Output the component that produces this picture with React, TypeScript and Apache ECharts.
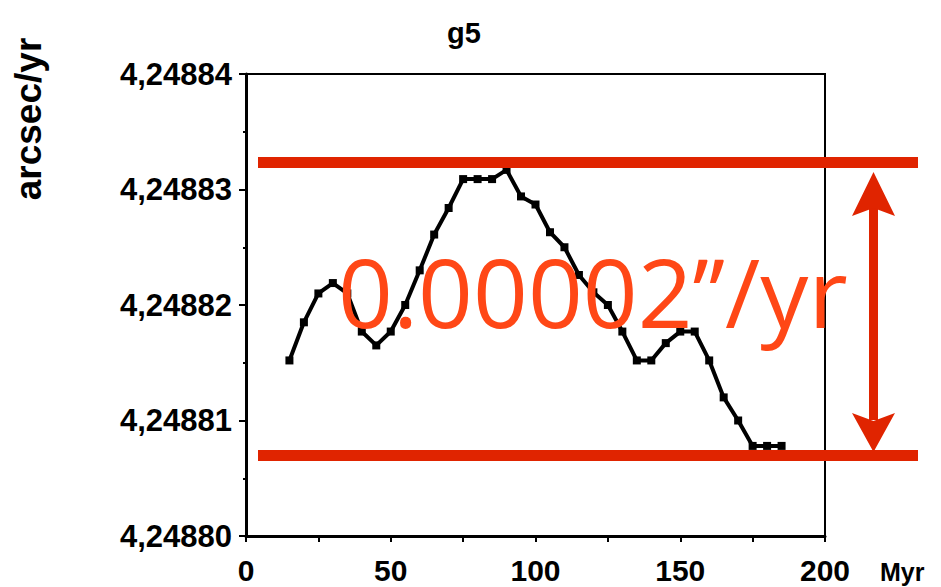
import React, { useEffect, useRef } from "react";
import * as echarts from "echarts";

// Time in Myr
const timeMyr: number[] = [
  15, 20, 25, 30, 35, 40, 45, 50, 55, 60, 65, 70, 75, 80, 85, 90, 95, 100,
  105, 110, 115, 120, 125, 130, 135, 140, 145, 150, 155, 160, 165, 170, 175,
  180, 185,
];

// g5 frequency, arcsec/yr
const g5Values: number[] = [
  4.2488152, 4.2488185, 4.248821, 4.2488219, 4.248821, 4.2488177, 4.2488165,
  4.2488177, 4.24882, 4.248823, 4.2488261, 4.2488284, 4.2488309, 4.2488309,
  4.2488309, 4.2488317, 4.2488294, 4.2488287, 4.2488263, 4.248825, 4.2488226,
  4.2488211, 4.24882, 4.2488177, 4.2488152, 4.2488152, 4.2488167, 4.2488177,
  4.2488177, 4.2488152, 4.248812, 4.24881, 4.2488078, 4.2488078, 4.2488078,
];

const yTicks: number[] = [4.2488, 4.24881, 4.24882, 4.24883, 4.24884];
const xTicks: number[] = [0, 50, 100, 150, 200];

const title = "g5";
const yName = "arcsec/yr";
const xName = "Myr";
const spreadLabel = "0.00002\u2019\u2019/yr";

const RED = "#e02400";
const RED_TEXT = "#ff4716";
const FONT = "Liberation Sans";

export default function App() {
  const ref = useRef<HTMLDivElement>(null);

  useEffect(() => {
    if (!ref.current) return;
    const chart = echarts.init(ref.current, undefined, { renderer: "svg" });

    const series = timeMyr.map((t, i) => [t, g5Values[i]]);

    chart.setOption({
      animation: false,
      backgroundColor: "#ffffff",
      grid: {
        left: 246,
        right: 116,
        top: 74,
        bottom: 51,
        show: true,
        borderColor: "#000",
        borderWidth: 2,
      },
      xAxis: {
        type: "value",
        min: xTicks[0],
        max: xTicks[xTicks.length - 1],
        interval: 50,
        axisLine: { show: true, lineStyle: { color: "#000", width: 3 } },
        axisTick: { show: true, length: 6, lineStyle: { color: "#000", width: 2 } },
        minorTick: { show: true, splitNumber: 2, length: 6, lineStyle: { color: "#000", width: 2 } },
        splitLine: { show: false },
        axisLabel: {
          color: "#000",
          fontFamily: FONT,
          fontWeight: "bold",
          fontSize: 30,
          margin: 19,
        },
      },
      yAxis: {
        type: "value",
        min: yTicks[0],
        max: yTicks[yTicks.length - 1],
        interval: 0.00001,
        axisLine: { show: true, lineStyle: { color: "#000", width: 3 } },
        axisTick: { show: true, length: 7, lineStyle: { color: "#000", width: 2 } },
        minorTick: { show: true, splitNumber: 2, length: 3, lineStyle: { color: "#000", width: 2 } },
        splitLine: { show: false },
        axisLabel: {
          color: "#000",
          fontFamily: FONT,
          fontWeight: "bold",
          fontSize: 31,
          margin: 14,
          formatter: (v: number) => v.toFixed(5).replace(".", ","),
        },
      },
      series: [
        {
          type: "line",
          data: series,
          symbol: "rect",
          symbolSize: 8,
          lineStyle: { color: "#000", width: 4 },
          itemStyle: { color: "#000" },
          z: 3,
        },
      ],
      graphic: [
        {
          type: "text",
          x: 464,
          y: 33,
          style: {
            text: title,
            fill: "#000",
            fontFamily: FONT,
            fontWeight: "bold",
            fontSize: 29,
            align: "center",
            verticalAlign: "middle",
          },
        },
        {
          type: "text",
          x: 28,
          y: 119,
          rotation: Math.PI / 2,
          style: {
            text: yName,
            fill: "#000",
            fontFamily: FONT,
            fontWeight: "bold",
            fontSize: 37,
            align: "center",
            verticalAlign: "middle",
          },
        },
        {
          type: "text",
          x: 880,
          y: 572,
          style: {
            text: xName,
            fill: "#000",
            fontFamily: FONT,
            fontWeight: "bold",
            fontSize: 25,
            align: "left",
            verticalAlign: "middle",
          },
        },
        // spread bars and double arrow
        { type: "rect", shape: { x: 258, y: 157, width: 660, height: 11 }, style: { fill: RED }, z: 10 },
        { type: "rect", shape: { x: 258, y: 450, width: 660, height: 11 }, style: { fill: RED }, z: 10 },
        { type: "rect", shape: { x: 869, y: 205, width: 9, height: 215 }, style: { fill: RED }, z: 10 },
        {
          type: "polygon",
          shape: { points: [[873.5, 172], [852, 216], [873.5, 208], [895, 216]] },
          style: { fill: RED },
          z: 10,
        },
        {
          type: "polygon",
          shape: { points: [[873.5, 452], [852, 413], [873.5, 421], [895, 413]] },
          style: { fill: RED },
          z: 10,
        },
        {
          type: "text",
          x: 338,
          y: 290,
          style: {
            text: spreadLabel,
            fill: RED_TEXT,
            fontFamily: "Open Sans",
            fontSize: 96,
            align: "left",
            verticalAlign: "middle",
          },
          z: 11,
        },
      ],
    });

    return () => chart.dispose();
  }, []);

  return (
    <div
      ref={ref}
      style={{ position: "fixed", left: 0, top: 0, width: 941, height: 587 }}
    />
  );
}
